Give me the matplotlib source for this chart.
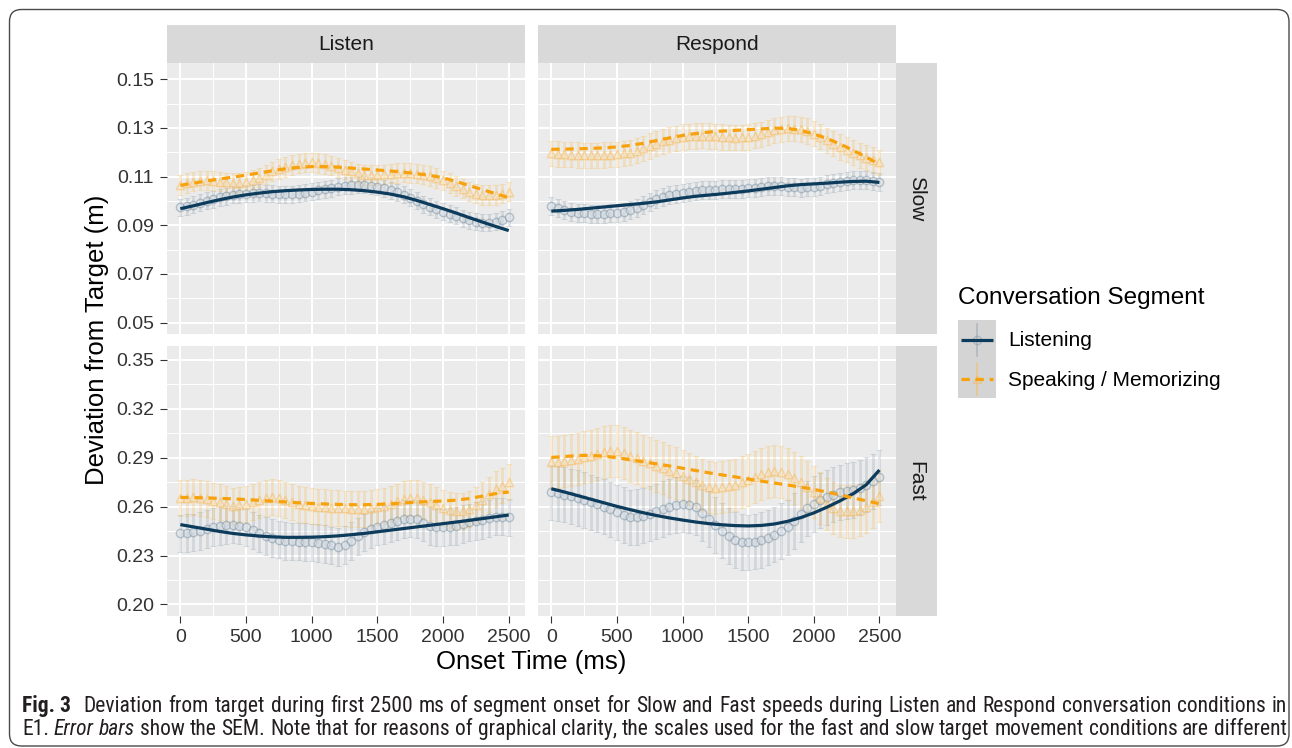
import numpy as np
import matplotlib
matplotlib.use("Agg")
import matplotlib.pyplot as plt
from matplotlib.patches import FancyBboxPatch
from matplotlib.transforms import IdentityTransform

plt.rcParams['font.family'] = ['Liberation Sans', 'DejaVu Sans']

# ------------------------------------------------------------------ data
conditions = ["Listen", "Respond"]
speeds = ["Slow", "Fast"]
segments = ["Listening", "Speaking / Memorizing"]
onset_ms = np.arange(0, 2501, 50)      # binned onset times of the observed means
fit_ms = np.arange(0, 2501, 100)       # times of the smoothed trend
x_ticks = [0, 500, 1000, 1500, 2000, 2500]
slow_ticks = [0.05, 0.07, 0.09, 0.11, 0.13, 0.15]
fast_ticks = [0.20, 0.23, 0.26, 0.29, 0.32, 0.35]

# observed means (m)
slow_listen_listening = [
    .0973, .0978, .0984, .0992, .1000, .1007, .1014, .1020, .1025, .1028, .1030,
    .1032, .1033, .1032, .1030, .1028, .1027, .1028, .1030, .1034, .1038,
    .1043, .1048, .1053, .1058, .1062, .1064, .1066, .1066, .1063, .1058,
    .1052, .1044, .1035, .1025, .1013, .1000, .0987, .0975, .0965, .0956,
    .0947, .0938, .0929, .0921, .0915, .0911, .0911, .0915, .0922, .0932]
slow_listen_speaking = [
    .1066, .1073, .1079, .1083, .1085, .1083, .1079, .1076, .1074, .1075, .1079,
    .1087, .1096, .1108, .1121, .1131, .1140, .1147, .1153, .1157, .1158,
    .1155, .1151, .1145, .1137, .1129, .1121, .1113, .1107, .1106, .1107,
    .1109, .1112, .1115, .1116, .1115, .1112, .1108, .1103, .1095, .1085,
    .1074, .1062, .1050, .1038, .1030, .1025, .1024, .1025, .1030, .1038]
slow_respond_listening = [
    .0979, .0970, .0962, .0956, .0952, .0950, .0948, .0947, .0948, .0950, .0952,
    .0956, .0962, .0972, .0984, .0996, .1007, .1017, .1025, .1030, .1034,
    .1038, .1041, .1043, .1044, .1046, .1047, .1048, .1049, .1050, .1052,
    .1055, .1058, .1061, .1062, .1060, .1058, .1056, .1055, .1056, .1058,
    .1062, .1068, .1074, .1079, .1083, .1085, .1086, .1085, .1082, .1079]
slow_respond_speaking = [
    .1195, .1193, .1192, .1190, .1189, .1188, .1188, .1188, .1189, .1190, .1192,
    .1195, .1199, .1207, .1216, .1226, .1236, .1245, .1252, .1258, .1263,
    .1266, .1267, .1268, .1267, .1265, .1263, .1261, .1260, .1261, .1263,
    .1268, .1274, .1282, .1290, .1295, .1298, .1297, .1294, .1287, .1277,
    .1264, .1249, .1235, .1222, .1210, .1199, .1188, .1178, .1168, .1158]
fast_listen_listening = [
    .2436, .2438, .2442, .2452, .2463, .2474, .2483, .2488, .2490, .2484, .2473,
    .2455, .2436, .2421, .2408, .2398, .2391, .2387, .2385, .2383, .2381,
    .2377, .2371, .2362, .2354, .2365, .2391, .2418, .2442, .2461, .2477,
    .2488, .2498, .2511, .2524, .2527, .2524, .2503, .2483, .2475, .2473,
    .2477, .2483, .2493, .2504, .2511, .2518, .2528, .2539, .2539, .2535]
fast_listen_speaking = [
    .2653, .2655, .2657, .2653, .2647, .2637, .2627, .2616, .2606, .2608, .2616,
    .2629, .2641, .2653, .2661, .2655, .2641, .2628, .2616, .2609, .2604,
    .2600, .2596, .2594, .2592, .2589, .2586, .2585, .2586, .2590, .2596,
    .2605, .2616, .2632, .2647, .2653, .2653, .2641, .2627, .2609, .2592,
    .2580, .2571, .2574, .2586, .2610, .2641, .2675, .2708, .2730, .2749]
fast_respond_listening = [
    .2688, .2682, .2674, .2664, .2653, .2640, .2627, .2614, .2600, .2583, .2565,
    .2549, .2535, .2537, .2545, .2558, .2571, .2586, .2600, .2610, .2616,
    .2611, .2596, .2562, .2524, .2488, .2453, .2421, .2395, .2384, .2381,
    .2385, .2395, .2410, .2428, .2450, .2473, .2512, .2555, .2589, .2616,
    .2638, .2657, .2674, .2688, .2696, .2702, .2717, .2735, .2756, .2780]
fast_respond_speaking = [
    .2872, .2875, .2878, .2885, .2893, .2903, .2913, .2923, .2933, .2940, .2944,
    .2930, .2913, .2898, .2882, .2867, .2852, .2837, .2821, .2806, .2790,
    .2770, .2749, .2732, .2719, .2716, .2719, .2726, .2735, .2749, .2764,
    .2783, .2801, .2814, .2821, .2815, .2801, .2777, .2749, .2719, .2688,
    .2651, .2616, .2592, .2575, .2571, .2571, .2580, .2596, .2628, .2668]

# smoothed trends (m)
slow_listen_listening_fit = [
    .0968, .0980, .0993, .1005, .1016, .1025, .1032, .1038, .1042, .1045, .1047,
    .1048, .1048, .1046, .1042, .1036, .1028, .1017, .1002, .0985, .0968,
    .0950, .0931, .0913, .0895, .0878]
slow_listen_speaking_fit = [
    .1064, .1073, .1082, .1090, .1098, .1106, .1115, .1124, .1132, .1138, .1141,
    .1141, .1139, .1135, .1131, .1127, .1123, .1118, .1112, .1105, .1095,
    .1080, .1063, .1046, .1030, .1013]
slow_respond_listening_fit = [
    .0958, .0961, .0965, .0970, .0975, .0980, .0985, .0990, .0996, .1004, .1012,
    .1019, .1024, .1029, .1035, .1041, .1048, .1055, .1062, .1067, .1070,
    .1073, .1077, .1080, .1081, .1076]
slow_respond_speaking_fit = [
    .1212, .1213, .1214, .1216, .1218, .1222, .1228, .1237, .1248, .1259, .1269,
    .1277, .1283, .1287, .1290, .1293, .1296, .1299, .1298, .1290, .1275,
    .1257, .1234, .1208, .1180, .1150]
fast_listen_listening_fit = [
    .2490, .2476, .2462, .2448, .2436, .2427, .2420, .2415, .2412, .2412, .2413,
    .2416, .2421, .2428, .2436, .2446, .2456, .2466, .2476, .2486, .2496,
    .2506, .2516, .2527, .2538, .2549]
fast_listen_speaking_fit = [
    .2657, .2656, .2654, .2651, .2648, .2644, .2639, .2634, .2629, .2624, .2620,
    .2617, .2614, .2612, .2612, .2614, .2618, .2623, .2628, .2632, .2635,
    .2640, .2650, .2665, .2680, .2690]
fast_respond_listening_fit = [
    .2710, .2690, .2668, .2646, .2624, .2602, .2582, .2563, .2546, .2531, .2518,
    .2506, .2496, .2489, .2484, .2482, .2485, .2494, .2510, .2533, .2562,
    .2597, .2636, .2680, .2735, .2825]
fast_respond_speaking_fit = [
    .2902, .2908, .2914, .2915, .2910, .2900, .2888, .2876, .2863, .2850, .2836,
    .2822, .2808, .2795, .2783, .2770, .2757, .2745, .2733, .2720, .2706,
    .2690, .2672, .2654, .2636, .2618]

# standard errors of the mean (listening, speaking) per panel
sem_slow_listen = [0.0035, 0.0040]
sem_slow_respond = [0.0037, 0.0052]
sem_fast_listen = [0.0115, 0.0110]
sem_fast_respond = [0.0170, 0.0160]

# ------------------------------------------------------------------ style
NAVY = "#0C3B5C"
ORANGE = "#F7A10C"
BAR_L = "#8296A6"
BAR_S = "#FBB53A"
PANEL_BG = "#EBEBEB"
STRIP_BG = "#D9D9D9"
TXT = "#1A1A1A"
TICK_TXT = "#333333"

W, H = 1292, 748
fig = plt.figure(figsize=(W / 100, H / 100), dpi=100)
fig.patch.set_facecolor("white")


def rect(x0, y0, x1, y1):
    """Figure-fraction box from pixel edges measured from the top-left."""
    return [x0 / W, 1 - y1 / H, (x1 - x0) / W, (y1 - y0) / H]


COL_X = [(166.7, 525.0), (537.7, 895.7)]
ROW_Y = [(63.3, 334.3), (345.7, 616.0)]
YLIMS = [(0.04515, 0.15658), (0.19294, 0.35877)]
YTICKS = [slow_ticks, fast_ticks]

panel_data = {
    (0, 0): (slow_listen_listening, slow_listen_speaking,
             slow_listen_listening_fit, slow_listen_speaking_fit, sem_slow_listen),
    (0, 1): (slow_respond_listening, slow_respond_speaking,
             slow_respond_listening_fit, slow_respond_speaking_fit, sem_slow_respond),
    (1, 0): (fast_listen_listening, fast_listen_speaking,
             fast_listen_listening_fit, fast_listen_speaking_fit, sem_fast_listen),
    (1, 1): (fast_respond_listening, fast_respond_speaking,
             fast_respond_listening_fit, fast_respond_speaking_fit, sem_fast_respond),
}

for (r, c), (pl, ps, fl, fs, sem) in panel_data.items():
    ax = fig.add_axes(rect(COL_X[c][0], ROW_Y[r][0], COL_X[c][1], ROW_Y[r][1]))
    ax.set_facecolor(PANEL_BG)
    for sp in ax.spines.values():
        sp.set_visible(False)
    ax.set_xlim(-104, 2624)
    ax.set_ylim(*YLIMS[r])
    yt = YTICKS[r]
    step = yt[1] - yt[0]
    ax.set_xticks(x_ticks)
    ax.set_xticks([x + 250 for x in x_ticks[:-1]], minor=True)
    ax.set_yticks(yt)
    ax.set_yticks([y + step / 2 for y in yt[:-1]], minor=True)
    ax.grid(which="major", color="white", lw=1.4)
    ax.grid(which="minor", color="white", lw=0.7)
    ax.set_axisbelow(True)
    ax.tick_params(which="minor", length=0)
    ax.tick_params(which="major", length=4.8, width=0.8, color="#333333",
                   labelsize=14, labelcolor=TICK_TXT, pad=4.5)
    ax.set_yticklabels([f"{v:.2f}" for v in yt])
    if c == 1:
        ax.tick_params(axis="y", which="major", length=0, labelleft=False)
    if r == 0:
        ax.tick_params(axis="x", which="major", length=0, labelbottom=False)
    else:
        ax.set_xticklabels([str(v) for v in x_ticks])

    # error bars
    ax.errorbar(onset_ms, pl, yerr=sem[0], fmt="none", ecolor=BAR_L,
                elinewidth=2.0, capsize=2.5, capthick=0.8, alpha=0.24, zorder=2)
    ax.errorbar(onset_ms, ps, yerr=sem[1], fmt="none", ecolor=BAR_S,
                elinewidth=2.0, capsize=2.5, capthick=0.8, alpha=0.24, zorder=2)
    # observed means
    ax.scatter(onset_ms, pl, s=36, marker="o", facecolors=(0.84, 0.87, 0.90, 0.40),
               edgecolors=(0.40, 0.50, 0.58, 0.40), linewidths=1.0, zorder=3)
    ax.scatter(onset_ms, ps, s=36, marker="^", facecolors=(0.99, 0.88, 0.68, 0.30),
               edgecolors=(0.97, 0.70, 0.30, 0.42), linewidths=1.0, zorder=3)
    # smoothed trends
    ax.plot(fit_ms, fl, color=NAVY, lw=2.3, zorder=4, solid_capstyle="butt")
    ax.plot(fit_ms, fs, color=ORANGE, lw=2.3, ls=(0, (2.6, 1.8)), zorder=5)

# column strips
for c, name in enumerate(conditions):
    sax = fig.add_axes(rect(COL_X[c][0], 25.0, COL_X[c][1], 63.3))
    sax.set_facecolor(STRIP_BG)
    sax.set_xticks([]); sax.set_yticks([])
    for sp in sax.spines.values():
        sp.set_visible(False)
    sax.text(0.5, 0.5, name, ha="center", va="center", fontsize=15, color=TXT,
             transform=sax.transAxes)

# row strips
for r, name in enumerate(speeds):
    sax = fig.add_axes(rect(895.7, ROW_Y[r][0], 936.7, ROW_Y[r][1]))
    sax.set_facecolor(STRIP_BG)
    sax.set_xticks([]); sax.set_yticks([])
    for sp in sax.spines.values():
        sp.set_visible(False)
    sax.text(0.5, 0.5, name, ha="center", va="center", fontsize=15, color=TXT,
             rotation=-90, transform=sax.transAxes)

# axis titles
fig.text(531 / W, 1 - 662 / H, "Onset Time (ms)", ha="center", va="center",
         fontsize=18.5, color="black")
fig.text(97 / W, 1 - 340 / H, "Deviation from Target (m)", ha="center", va="center",
         fontsize=18.5, color="black", rotation=90)

# legend
fig.text(958 / W, 1 - 298 / H, "Conversation Segment", ha="left", va="center",
         fontsize=17.5, color="black")
lax = fig.add_axes(rect(958, 320, 996, 398))
lax.set_facecolor("#D4D4D4")
lax.set_xlim(0, 38)
lax.set_ylim(78, 0)
lax.set_xticks([]); lax.set_yticks([])
for sp in lax.spines.values():
    sp.set_visible(False)
for i, (lc, bc, mk, ls, lab) in enumerate([
        (NAVY, BAR_L, "o", "-", segments[0]),
        (ORANGE, BAR_S, "^", (0, (2.6, 1.8)), segments[1])]):
    yc = 20 + 39 * i
    lax.plot([19, 19], [yc - 16, yc + 16], color=bc, lw=1.2, alpha=0.45)
    lax.plot([19], [yc], marker=mk, ms=6, mfc="none", mec=bc, alpha=0.45)
    lax.plot([3, 35], [yc, yc], color=lc, lw=2.3, ls=ls, solid_capstyle="butt")
    fig.text(1008 / W, 1 - (341 + 39.5 * i) / H, lab, ha="left", va="center",
             fontsize=15, color="black")

# rounded frame
frame = FancyBboxPatch((9.5, H - 746), 1279.5, 736.5,
                       boxstyle="round,pad=0,rounding_size=12",
                       transform=IdentityTransform(), fill=False,
                       ec="#4A4A4A", lw=1.0)
fig.patches.append(frame)

# caption, justified between the frame margins
CAP_FAMILY = ["Liberation Sans Narrow", "Roboto Condensed", "Roboto", "DejaVu Sans"]
CAP_COLOR = "#231F20"
renderer = fig.canvas.get_renderer()


def word(s, size, weight="normal", style="normal"):
    return fig.text(0, 0, s, fontsize=size, fontweight=weight, fontstyle=style,
                    family=CAP_FAMILY, color=CAP_COLOR, ha="left", va="baseline",
                    transform=IdentityTransform())


line1 = [("Fig. 3", "bold", "normal", 0)] + [
    (w, "normal", "normal", 2.2 if i == 0 else 1) for i, w in enumerate(
        "Deviation from target during first 2500 ms of segment onset for Slow and "
        "Fast speeds during Listen and Respond conversation conditions in".split())]
line2 = [("E1.", "normal", "normal", 0), ("Error", "normal", "italic", 1),
         ("bars", "normal", "italic", 1)] + [
    (w, "normal", "normal", 1) for w in
    "show the SEM. Note that for reasons of graphical clarity, the scales used for "
    "the fast and slow target movement conditions are different".split()]

X0, X1 = 22.0, 1287.0


def measure(tokens, size):
    arts = [word(t, size, wt, st) for t, wt, st, _ in tokens]
    widths = [a.get_window_extent(renderer).width for a in arts]
    for a in arts:
        a.remove()
    sp_a = word("n n", size); sp_b = word("nn", size)
    space = sp_a.get_window_extent(renderer).width - sp_b.get_window_extent(renderer).width
    sp_a.remove(); sp_b.remove()
    return widths, space


base = 12.0
w2, sp2 = measure(line2, base)
natural = sum(w2) + sp2 * sum(m for *_, m in line2)
cap_size = base * (X1 - X0) / natural


def justify(tokens, y_base):
    widths, _ = measure(tokens, cap_size)
    units = sum(m for *_, m in tokens)
    gap = (X1 - X0 - sum(widths)) / units
    x = X0
    for (t, wt, st, m), w in zip(tokens, widths):
        x += gap * m
        word(t, cap_size, wt, st).set_position((x, H - y_base))
        x += w


justify(line1, 712)
justify(line2, 735)

fig.savefig("out.png", dpi=100, facecolor="white")
